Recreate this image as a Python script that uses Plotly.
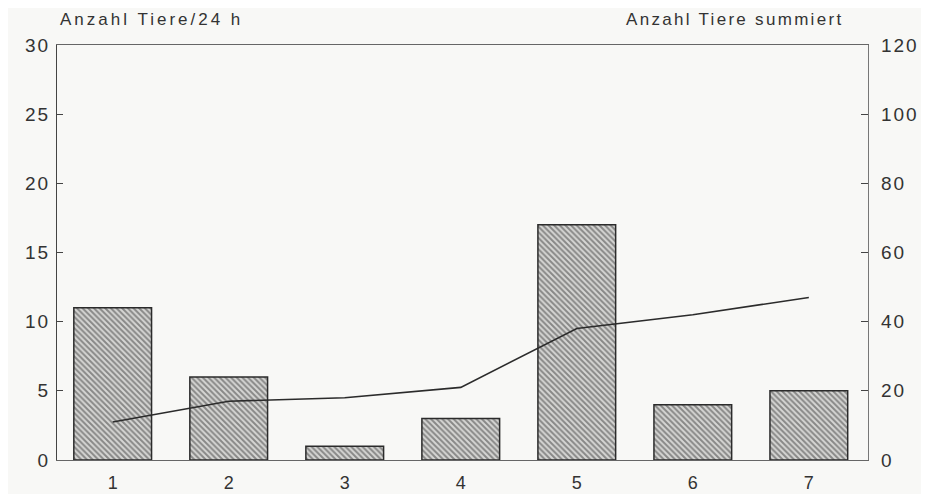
import plotly.graph_objects as go

days = [1, 2, 3, 4, 5, 6, 7]
tiere_24h = [11, 6, 1, 3, 17, 4, 5]
tiere_summiert = [11, 17, 18, 21, 38, 42, 47]
left_ticks = [0, 5, 10, 15, 20, 25, 30]
right_ticks = [0, 20, 40, 60, 80, 100, 120]


def spaced(t, ls=2):
    return '<span style="letter-spacing:%spx">%s</span>' % (ls, t)


ink = "#2b2b2b"
bg = "#f8f8f6"
fig = go.Figure()
fig.add_trace(go.Bar(
    x=days, y=tiere_24h, width=0.67,
    marker=dict(color=bg, line=dict(color=ink, width=1.5),
                pattern=dict(shape="\\", fgcolor="#3a3a3a", bgcolor="#d6d6d4",
                             size=4, solidity=0.5)),
    showlegend=False, yaxis="y"))
fig.add_trace(go.Scatter(
    x=days, y=tiere_summiert, mode="lines",
    line=dict(color=ink, width=1.6), showlegend=False, yaxis="y2"))

fam = "Liberation Sans, Arial, sans-serif"
font = dict(family=fam, size=19, color="#333")
fig.update_layout(
    width=921, height=486,
    margin=dict(l=49, r=61, t=37, b=34, autoexpand=False),
    paper_bgcolor=bg, plot_bgcolor=bg,
    font=font,
    xaxis=dict(range=[0.52, 7.51], tickvals=days, ticktext=[str(d) for d in days],
               tickfont=dict(size=18), automargin=False,
               showgrid=False, zeroline=False, showline=True, linecolor="#666",
               linewidth=1.2, mirror=True, ticks="", ticklabelstandoff=6),
    yaxis=dict(range=[0, 30], tickvals=left_ticks, automargin=False,
               ticktext=[spaced(str(v), 2) for v in left_ticks],
               showgrid=False, zeroline=False,
               showline=True, linecolor="#444", linewidth=1.2, ticks="inside",
               ticklen=6, tickcolor="#444", ticklabelstandoff=2),
    yaxis2=dict(range=[0, 120], tickvals=right_ticks, automargin=False,
                ticktext=[spaced(str(v), 2) for v in right_ticks],
                overlaying="y", side="right",
                showgrid=False, zeroline=False, showline=True, linecolor="#777",
                linewidth=1.2, ticks="inside", ticklen=7, tickcolor="#444",
                ticklabelstandoff=8),
    annotations=[
        dict(text=spaced("Anzahl Tiere/24 h", 3), xref="paper", yref="paper", x=0.0, y=1.0,
             xanchor="left", yanchor="bottom", yshift=14, xshift=1, showarrow=False,
             font=dict(family=fam, size=17, color="#333")),
        dict(text=spaced("Anzahl Tiere summiert", 2.3), xref="paper", yref="paper", x=0.9716, y=1.0,
             xanchor="right", yanchor="bottom", yshift=14, showarrow=False,
             font=dict(family=fam, size=17, color="#333")),
    ],
)
fig.write_html("out.html")
